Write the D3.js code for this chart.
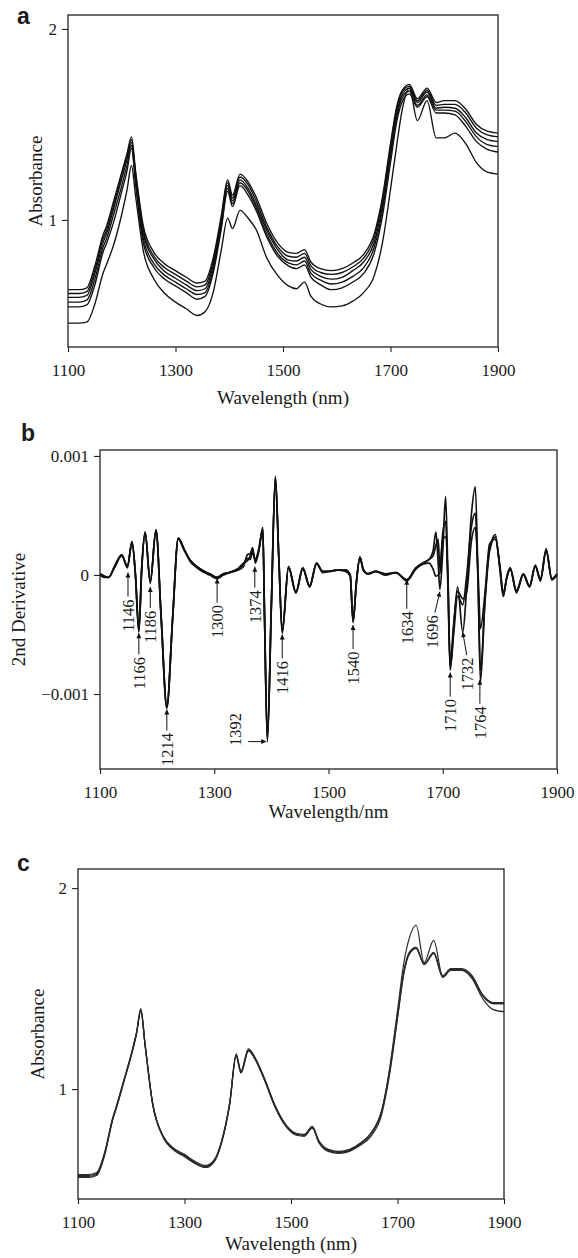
<!DOCTYPE html>
<html><head><meta charset="utf-8">
<script src="https://cdn.jsdelivr.net/npm/d3@7"></script>
<style>
body{margin:0;background:#fff}
svg text{font-family:"Liberation Serif","Times New Roman",serif;fill:#1a1a1a}
</style>
</head><body>
<svg id="chart" width="578" height="1258"></svg>
<script>
// ---------- shared ----------
const xTicks = [1100, 1300, 1500, 1700, 1900];

// ---------- panel a : raw spectra ----------
const aWavelength = [1100,1120,1135,1150,1165,1172,1185,1200,1210,1218,1226,1240,1260,1280,1300,1320,1340,1355,1370,1385,1397,1406,1420,1435,1450,1470,1490,1510,1525,1540,1552,1570,1590,1610,1630,1650,1670,1685,1700,1712,1722,1735,1750,1768,1785,1800,1820,1840,1860,1880,1900];
const aSpec1 = [0.635,0.635,0.645,0.76,0.92,0.97,1.10,1.25,1.35,1.435,1.25,0.97,0.83,0.77,0.735,0.70,0.67,0.68,0.80,1.02,1.21,1.13,1.24,1.20,1.12,0.98,0.88,0.83,0.825,0.845,0.78,0.745,0.735,0.745,0.775,0.82,0.93,1.12,1.40,1.60,1.68,1.71,1.635,1.69,1.615,1.625,1.625,1.58,1.50,1.465,1.455];
const aSpec2 = [0.615,0.615,0.625,0.74,0.90,0.95,1.08,1.235,1.335,1.42,1.235,0.95,0.81,0.75,0.715,0.68,0.65,0.66,0.78,1.00,1.195,1.115,1.225,1.185,1.10,0.96,0.86,0.81,0.805,0.825,0.76,0.725,0.715,0.725,0.755,0.80,0.91,1.10,1.38,1.585,1.67,1.70,1.625,1.68,1.60,1.605,1.605,1.56,1.48,1.445,1.435];
const aSpec3 = [0.595,0.595,0.605,0.72,0.88,0.93,1.06,1.215,1.32,1.405,1.22,0.93,0.795,0.73,0.695,0.66,0.63,0.64,0.76,0.985,1.18,1.10,1.21,1.165,1.08,0.945,0.845,0.79,0.785,0.805,0.74,0.705,0.69,0.70,0.735,0.78,0.885,1.075,1.355,1.565,1.655,1.69,1.615,1.67,1.585,1.59,1.585,1.535,1.455,1.42,1.41];
const aSpec4 = [0.57,0.57,0.58,0.69,0.855,0.905,1.03,1.18,1.29,1.39,1.20,0.905,0.77,0.71,0.675,0.64,0.61,0.62,0.74,0.965,1.165,1.085,1.195,1.15,1.065,0.925,0.825,0.775,0.765,0.785,0.72,0.685,0.665,0.675,0.705,0.75,0.86,1.05,1.33,1.545,1.64,1.675,1.60,1.655,1.575,1.575,1.57,1.515,1.435,1.395,1.385];
const aSpec5 = [0.545,0.545,0.555,0.66,0.83,0.88,0.99,1.15,1.26,1.375,1.18,0.88,0.75,0.69,0.655,0.62,0.585,0.60,0.72,0.95,1.15,1.07,1.18,1.13,1.05,0.91,0.81,0.76,0.745,0.765,0.70,0.66,0.635,0.645,0.675,0.72,0.83,1.02,1.30,1.52,1.62,1.66,1.59,1.645,1.56,1.56,1.55,1.49,1.41,1.37,1.356];
const aSpec6 = [0.46,0.46,0.465,0.56,0.72,0.77,0.87,1.03,1.16,1.285,1.12,0.84,0.69,0.615,0.57,0.535,0.50,0.52,0.62,0.84,1.01,0.955,1.05,1.01,0.95,0.80,0.71,0.655,0.64,0.675,0.60,0.56,0.545,0.55,0.575,0.62,0.71,0.88,1.16,1.40,1.58,1.69,1.52,1.625,1.43,1.43,1.455,1.40,1.30,1.25,1.24];
const aYTicks = [1, 2];
const aYTickLabels = ["1", "2"];

// ---------- panel b : 2nd derivative (values in units of 0.001) ----------
const bWavelength = [1100,1108,1115,1125,1138,1148,1156,1162,1168,1173,1179,1188,1198,1207,1217,1227,1237,1247,1257,1267,1279,1292,1305,1316,1326,1341,1351,1358,1363,1367,1372,1378,1385,1388,1393,1400,1407,1413,1419,1430,1443,1455,1467,1479,1490,1500,1515,1530,1538,1543,1549,1555,1561,1569,1583,1600,1618,1637,1653,1665,1676,1683,1688,1692,1695,1700,1705,1709,1713,1719,1726,1735,1742,1750,1757,1762,1766,1774,1782,1792,1800,1806,1812,1818,1829,1841,1852,1862,1871,1881,1891,1900];
const bDeriv1 = [0.01,-0.01,-0.02,0.06,0.17,0.07,0.28,0.0,-0.48,0.05, 0.36,-0.07,0.38,-0.35,-1.12,-0.38,0.31,0.22,0.13,0.08, 0.04,0.01,-0.02,0.01,0.02,0.04,0.07,0.17,0.18,0.23, 0.10,0.20,0.40,-0.35,-1.40,-0.25,0.83,0.15,-0.49,0.07, -0.15,0.06,-0.10,0.10,0.03,0.03,0.04,0.04,0.00,-0.40, -0.05,0.15,0.04,0.01,0.03,0.00,0.02,-0.04,0.06,0.10, 0.13,0.20,0.36,0.10,-0.12,0.20,0.66,0.0,-0.80,-0.45, -0.10,-0.48,-0.10,0.50,0.74,-0.10,-0.90,-0.20,0.22,0.34, 0.05,-0.18,-0.02,0.06,-0.15,0.01,-0.10,0.08,-0.04,0.22, -0.04,0.01];
const bDeriv2 = [0.01,-0.01,-0.02,0.06,0.16,0.08,0.27,0.01,-0.46,0.05, 0.35,-0.05,0.37,-0.34,-1.10,-0.37,0.30,0.21,0.13,0.08, 0.04,0.01,-0.02,0.01,0.02,0.05,0.09,0.14,0.13,0.19, 0.13,0.22,0.38,-0.33,-1.36,-0.24,0.80,0.14,-0.47,0.07, -0.14,0.06,-0.09,0.09,0.03,0.03,0.04,0.04,0.00,-0.38, -0.05,0.14,0.04,0.01,0.03,0.00,0.02,-0.04,0.06,0.10, 0.13,0.16,0.25,0.30,0.05,0.30,0.32,0.0,-0.75,-0.42, -0.14,-0.20,-0.14,0.28,0.40,0.00,-0.45,-0.15,0.26,0.30, 0.08,-0.15,-0.03,0.05,-0.13,0.01,-0.09,0.07,-0.03,0.20, -0.03,0.01];
const bDeriv3 = [0.00,-0.02,-0.02,0.07,0.17,0.06,0.28,0.00,-0.47,0.06, 0.36,-0.06,0.38,-0.36,-1.11,-0.38,0.31,0.22,0.12,0.07, 0.03,0.00,-0.03,0.00,0.02,0.05,0.10,0.12,0.16,0.20, 0.12,0.21,0.39,-0.34,-1.38,-0.26,0.82,0.15,-0.48,0.06, -0.15,0.05,-0.10,0.10,0.02,0.03,0.04,0.03,-0.01,-0.39, -0.06,0.15,0.05,0.01,0.03,0.01,0.02,-0.05,0.05,0.09, 0.10,0.05,-0.01,0.00,0.02,0.35,0.45,-0.10,-0.78,-0.50, -0.18,-0.25,0.00,0.40,0.52,-0.10,-0.80,-0.22,0.20,0.32, 0.06,-0.17,-0.02,0.06,-0.14,0.00,-0.10,0.08,-0.05,0.21, -0.04,0.00];
const bYTicks = [1, 0, -1];
const bYTickLabels = ["0.001", "0", "\u22120.001"];
// peak annotations: label, arrow-tip wavelength, arrow-tip value (x0.001)
const annLabels = ["1146","1166","1186","1214","1300","1374","1392","1416","1540","1634","1696","1710","1732","1764"];
const annTipW   = [1149,1168,1188,1217,1305,1371,1391,1419,1543,1637,1695,1713,1735,1765];
const annTipV   = [0.02,-0.49,-0.10,-1.13,-0.03,0.07,-1.40,-0.50,-0.42,-0.04,-0.14,-0.82,-0.48,-0.88];

// ---------- panel c : corrected spectra ----------
const cSpec1 = [0.57,0.57,0.58,0.68,0.85,0.91,1.03,1.17,1.28,1.395,1.22,0.93,0.76,0.70,0.67,0.635,0.615,0.64,0.74,0.93,1.17,1.085,1.195,1.14,1.05,0.915,0.82,0.775,0.77,0.81,0.74,0.695,0.685,0.695,0.725,0.775,0.885,1.09,1.37,1.59,1.68,1.705,1.625,1.68,1.565,1.60,1.60,1.565,1.47,1.43,1.43];
const cSpec2 = [0.56,0.56,0.57,0.67,0.845,0.905,1.025,1.165,1.275,1.39,1.215,0.925,0.765,0.705,0.665,0.63,0.61,0.635,0.735,0.925,1.165,1.08,1.19,1.135,1.045,0.91,0.815,0.77,0.765,0.805,0.735,0.69,0.68,0.69,0.72,0.765,0.87,1.07,1.35,1.575,1.675,1.70,1.62,1.675,1.56,1.595,1.595,1.56,1.465,1.425,1.425];
const cSpec3 = [0.575,0.575,0.585,0.685,0.855,0.915,1.035,1.175,1.285,1.40,1.225,0.935,0.765,0.705,0.675,0.64,0.62,0.645,0.745,0.935,1.175,1.09,1.20,1.145,1.055,0.92,0.825,0.78,0.775,0.815,0.745,0.70,0.69,0.70,0.73,0.78,0.89,1.10,1.39,1.63,1.75,1.815,1.63,1.74,1.56,1.595,1.595,1.56,1.465,1.425,1.425];
const cSpec4 = [0.565,0.565,0.575,0.675,0.85,0.905,1.03,1.17,1.28,1.39,1.22,0.93,0.76,0.695,0.665,0.63,0.61,0.64,0.74,0.93,1.165,1.08,1.19,1.14,1.05,0.915,0.82,0.775,0.77,0.81,0.74,0.695,0.685,0.695,0.73,0.78,0.89,1.08,1.36,1.58,1.67,1.70,1.62,1.675,1.555,1.59,1.59,1.55,1.45,1.395,1.385];
const cYTicks = [1, 2];
const cYTickLabels = ["1", "2"];

// ---------- drawing ----------
const svg = d3.select("#chart");
const defs = svg.append("defs");
defs.append("marker").attr("id","arrow").attr("viewBox","0 0 10 10")
  .attr("refX",10).attr("refY",5).attr("markerWidth",6).attr("markerHeight",5)
  .attr("markerUnits","userSpaceOnUse").attr("orient","auto")
  .append("path").attr("d","M0,0L10,5L0,10Z").attr("fill","#111");

function drawPanel(o) {
  const x = d3.scaleLinear().domain([1100, 1900]).range([o.left, o.right]);
  const y = d3.scaleLinear().domain(o.yDomain).range([o.bottom, o.top]);
  const g = svg.append("g");

  const xa = g.append("g").attr("transform", `translate(0,${o.bottom})`)
    .call(d3.axisBottom(x).tickValues(xTicks).tickFormat(d3.format("d"))
      .tickSize(5).tickPadding(12).tickSizeOuter(0));
  xa.select(".domain").remove();
  xa.attr("font-family", null).attr("font-size", 17);
  xa.selectAll("line").attr("stroke", "#222").attr("stroke-width", 1.1);

  const ya = g.append("g").attr("transform", `translate(${o.left},0)`)
    .call(d3.axisLeft(y).tickValues(o.yTicks).tickFormat((d, i) => o.yTickLabels[i])
      .tickSize(6).tickPadding(5).tickSizeOuter(0));
  ya.select(".domain").remove();
  ya.attr("font-family", null).attr("font-size", 17);
  ya.selectAll("line").attr("stroke", "#222").attr("stroke-width", 1.1);

  const line = d3.line().curve(d3.curveMonotoneX)
    .x((d, i) => x(o.wl[i])).y(d => y(d));
  g.append("g").selectAll("path").data(o.series).join("path")
    .attr("d", d => line(d))
    .attr("fill", "none").attr("stroke", o.stroke)
    .attr("stroke-width", o.width).attr("stroke-linejoin", "round");

  g.append("rect").attr("x", o.left).attr("y", o.top)
    .attr("width", o.right - o.left).attr("height", o.bottom - o.top)
    .attr("fill", "none").attr("stroke", "#222").attr("stroke-width", 1.3);

  g.append("text").attr("x", (o.left + o.right) / 2).attr("y", o.xTitleY)
    .attr("text-anchor", "middle").attr("font-size", 19).text(o.xTitle);
  g.append("text")
    .attr("transform", `translate(${o.yTitleX},${(o.top + o.bottom) / 2}) rotate(-90)`)
    .attr("text-anchor", "middle").attr("font-size", 19).text(o.yTitle);
  g.append("text").attr("x", o.letterX).attr("y", o.letterY)
    .style("font-family", "'Liberation Sans',Arial,sans-serif")
    .attr("font-weight", "bold").attr("font-size", 23).text(o.letter);
  return {x, y, g};
}

drawPanel({
  left: 68, right: 498, top: 15, bottom: 347, yDomain: [0.335, 2.073],
  yTicks: aYTicks, yTickLabels: aYTickLabels, wl: aWavelength,
  series: [aSpec1, aSpec2, aSpec3, aSpec4, aSpec5, aSpec6], stroke: "#111", width: 1.35,
  xTitle: "Wavelength (nm)", xTitleY: 404, yTitle: "Absorbance", yTitleX: 42,
  letter: "a", letterX: 17, letterY: 24
});

const pb = drawPanel({
  left: 100, right: 557, top: 450, bottom: 769, yDomain: [-1.63, 1.05],
  yTicks: bYTicks, yTickLabels: bYTickLabels, wl: bWavelength,
  series: [bDeriv3, bDeriv2, bDeriv1], stroke: "#111", width: 1.7,
  xTitle: "Wavelength/nm", xTitleY: 818, yTitle: "2nd Derivative", yTitleX: 25,
  letter: "b", letterX: 21, letterY: 441
});

// annotation layout (pixels relative to arrow tip)
const ann = annLabels.map((t, i) => {
  const tx = pb.x(annTipW[i]), ty = pb.y(annTipV[i]);
  let tail = [tx, ty + 24], text = [tx, ty + 43];
  if (t === "1392") { tail = [tx - 18, ty]; text = [tx - 31, ty - 12]; }
  if (t === "1696") { tail = [tx - 5, ty + 21]; text = [tx - 8, ty + 40]; }
  if (t === "1732") { tail = [tx + 4, ty + 23]; text = [tx + 4, ty + 42]; }
  if (t === "1166" || t === "1186" || t === "1214" || t === "1374") { tail[1] -= 3; text[1] -= 3; }
  if (t === "1634") { tail[1] += 5; text[1] += 5; }
  return {t, tx, ty, tail, text};
});
const ag = pb.g.append("g");
ag.selectAll("line").data(ann).join("line")
  .attr("x1", d => d.tail[0]).attr("y1", d => d.tail[1])
  .attr("x2", d => d.tx).attr("y2", d => d.ty)
  .attr("stroke", "#111").attr("stroke-width", 1).attr("marker-end", "url(#arrow)");
ag.selectAll("text").data(ann).join("text")
  .attr("transform", d => `translate(${d.text[0] + 6},${d.text[1]}) rotate(-90)`)
  .attr("text-anchor", "middle").attr("font-size", 16.5).text(d => d.t);

drawPanel({
  left: 78, right: 504, top: 869, bottom: 1199, yDomain: [0.453, 2.095],
  yTicks: cYTicks, yTickLabels: cYTickLabels, wl: aWavelength,
  series: [cSpec1, cSpec2, cSpec3, cSpec4], stroke: "#2a2a2a", width: 1.2,
  xTitle: "Wavelength (nm)", xTitleY: 1250, yTitle: "Absorbance", yTitleX: 44,
  letter: "c", letterX: 17, letterY: 871
});
</script>
</body></html>
